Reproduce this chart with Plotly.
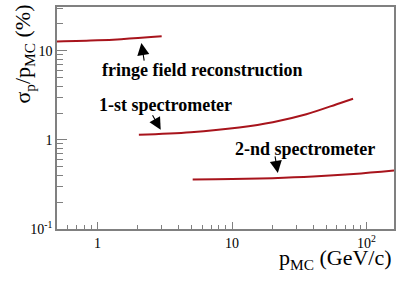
import math
import plotly.graph_objects as go

# data
fringe_p = [0.5, 1.0, 1.5, 2.0, 2.5, 3.0]
fringe_sigma = [12.7, 13.1, 13.5, 13.9, 14.3, 14.6]

spec1_p = [2.03, 4.94, 11.3, 20.1, 35.7, 63.2, 79.4]
spec1_sigma = [1.14, 1.22, 1.38, 1.58, 1.94, 2.58, 2.89]

spec2_p = [5.1, 10, 20, 40, 80, 160]
spec2_sigma = [0.360, 0.363, 0.372, 0.388, 0.414, 0.453]

x_tickvals = [1, 10, 100]
x_ticktext = ["1", "10", "10<sup>2</sup>"]
y_tickvals = [0.1, 1, 10]
y_ticktext = ["10<sup>-1</sup>", "1", "10"]

labels = ["fringe field reconstruction", "1-st spectrometer", "2-nd spectrometer"]
label_pos = [(6.0, 6.05), (3.21, 2.49), (34.7, 0.794)]
arrow_tip = [(2.12, 12.2), (2.95, 1.30), (21.9, 0.426)]
arrow_off = [(3, 19), (-9, -16), (-3, -18)]

RED = "#a8141c"
GRAY = "#808080"
FONT = "Liberation Serif"

fig = go.Figure()
for xs, ys in [(fringe_p, fringe_sigma), (spec1_p, spec1_sigma), (spec2_p, spec2_sigma)]:
    fig.add_trace(go.Scatter(x=xs, y=ys, mode="lines", line=dict(color=RED, width=2, shape="spline"),
                             showlegend=False, hoverinfo="skip"))

annotations = []
for txt, (px, py) in zip(labels, label_pos):
    annotations.append(dict(x=math.log10(px), y=math.log10(py), xref="x", yref="y",
                            text="<b>" + txt + "</b>",
                            showarrow=False, font=dict(family=FONT, size=18, color="black"),
                            xanchor="center", yanchor="middle"))
for (tx, ty), (ax, ay) in zip(arrow_tip, arrow_off):
    annotations.append(dict(x=math.log10(tx), y=math.log10(ty), xref="x", yref="y", text="",
                            showarrow=True, arrowhead=2, arrowsize=2.2, arrowwidth=1.1,
                            arrowcolor="black", ax=ax, ay=ay, standoff=0))

annotations.append(dict(x=1.0, y=-0.135, xref="paper", yref="paper",
                        text="p<sub>MC</sub> (GeV/c)", showarrow=False,
                        font=dict(family=FONT, size=22, color="black"),
                        xanchor="right", yanchor="middle"))
annotations.append(dict(x=-0.098, y=0.79, xref="paper", yref="paper",
                        text="σ<sub>p</sub>/p<sub>MC</sub> (%)", showarrow=False, textangle=-90,
                        font=dict(family=FONT, size=22, color="black"),
                        xanchor="center", yanchor="middle"))

x_minor = [0.6, 0.7, 0.8, 0.9, 2, 3, 4, 5, 6, 7, 8, 9, 20, 30, 40, 50, 60, 70, 80, 90]
y_minor = [0.2, 0.3, 0.4, 0.5, 0.6, 0.7, 0.8, 0.9, 2, 3, 4, 5, 6, 7, 8, 9, 20, 30]

fig.update_layout(
    width=415, height=283,
    margin=dict(l=57, r=21, t=5, b=54),
    paper_bgcolor="white", plot_bgcolor="white",
    font=dict(family=FONT, size=14, color="black"),
    annotations=annotations,
    xaxis=dict(type="log", range=[math.log10(0.5), math.log10(160)],
               tickmode="array", tickvals=x_tickvals, ticktext=x_ticktext,
               ticks="inside", ticklen=7, tickwidth=1, tickcolor=GRAY,
               showline=True, linecolor=GRAY, linewidth=1.5, mirror=True,
               showgrid=False, zeroline=False,
               tickfont=dict(family=FONT, size=14, color="black"),
               minor=dict(tickmode="array", tickvals=x_minor, ticks="inside", ticklen=4,
                          tickcolor=GRAY, tickwidth=1, showgrid=False)),
    yaxis=dict(type="log", range=[-1, math.log10(31)],
               tickmode="array", tickvals=y_tickvals, ticktext=y_ticktext,
               ticks="inside", ticklen=10, tickwidth=1, tickcolor=GRAY,
               showline=True, linecolor=GRAY, linewidth=1.5, mirror=True,
               showgrid=False, zeroline=False,
               tickfont=dict(family=FONT, size=14, color="black"),
               minor=dict(tickmode="array", tickvals=y_minor, ticks="inside", ticklen=6,
                          tickcolor=GRAY, tickwidth=1, showgrid=False)),
)

fig.write_html("out.html", config={"displayModeBar": False},
               post_script="document.body.style.margin='0px';")
